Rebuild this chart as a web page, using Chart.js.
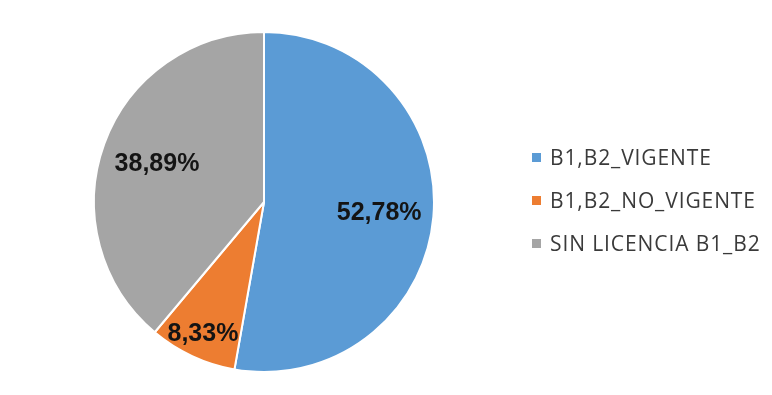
<!DOCTYPE html>
<html>
<head>
<meta charset="utf-8">
<script src="https://cdn.jsdelivr.net/npm/chart.js@4/dist/chart.umd.min.js"></script>
<style>
html,body{margin:0;padding:0;background:#fff;}
#wrap{width:772px;height:395px;position:relative;}
</style>
</head>
<body>
<div id="wrap"><canvas id="c" width="772" height="395"></canvas></div>
<script>
const categories = ["B1,B2_VIGENTE", "B1,B2_NO_VIGENTE", "SIN LICENCIA B1_B2"];
const values = [52.78, 8.33, 38.89];
const valueLabels = ["52,78%", "8,33%", "38,89%"];
const colors = ["#5B9BD5", "#ED7D31", "#A5A5A5"];

const labelRadius = [0.68, 0.85, 0.67];

const piePlugin = {
  id: 'pieText',
  afterDatasetsDraw(chart) {
    const ctx = chart.ctx;
    const meta = chart.getDatasetMeta(0);
    ctx.save();
    ctx.font = 'bold 25px "Liberation Sans", Arial, sans-serif';
    ctx.fillStyle = '#141414';
    ctx.textAlign = 'center';
    ctx.textBaseline = 'middle';
    meta.data.forEach((arc, i) => {
      const p = arc.getProps(['x','y','startAngle','endAngle','outerRadius'], true);
      const mid = (p.startAngle + p.endAngle) / 2;
      const r = p.outerRadius * labelRadius[i];
      ctx.fillText(valueLabels[i], p.x + Math.cos(mid) * r, p.y + Math.sin(mid) * r + 1);
    });
    // legend
    const lx = 532, ly0 = 158, dy = 43;
    ctx.font = '21px "Open Sans", "Liberation Sans", sans-serif';
    ctx.letterSpacing = '0.9px';
    ctx.textAlign = 'left';
    chart.data.labels.forEach((lab, i) => {
      const y = ly0 + i * dy;
      ctx.fillStyle = colors[i];
      ctx.fillRect(lx, y - 5, 9, 9);
      ctx.fillStyle = '#3a3a3a';
      ctx.fillText(lab, lx + 18, y + 1);
    });
    ctx.restore();
  }
};

new Chart(document.getElementById('c'), {
  type: 'pie',
  data: {
    labels: categories,
    datasets: [{
      data: values,
      backgroundColor: colors,
      borderColor: '#ffffff',
      borderWidth: 2
    }]
  },
  options: {
    responsive: false,
    animation: false,
    layout: { padding: { left: 93, right: 337, top: 31, bottom: 22 } },
    plugins: { legend: { display: false }, tooltip: { enabled: false } }
  },
  plugins: [piePlugin]
});
</script>
</body>
</html>
